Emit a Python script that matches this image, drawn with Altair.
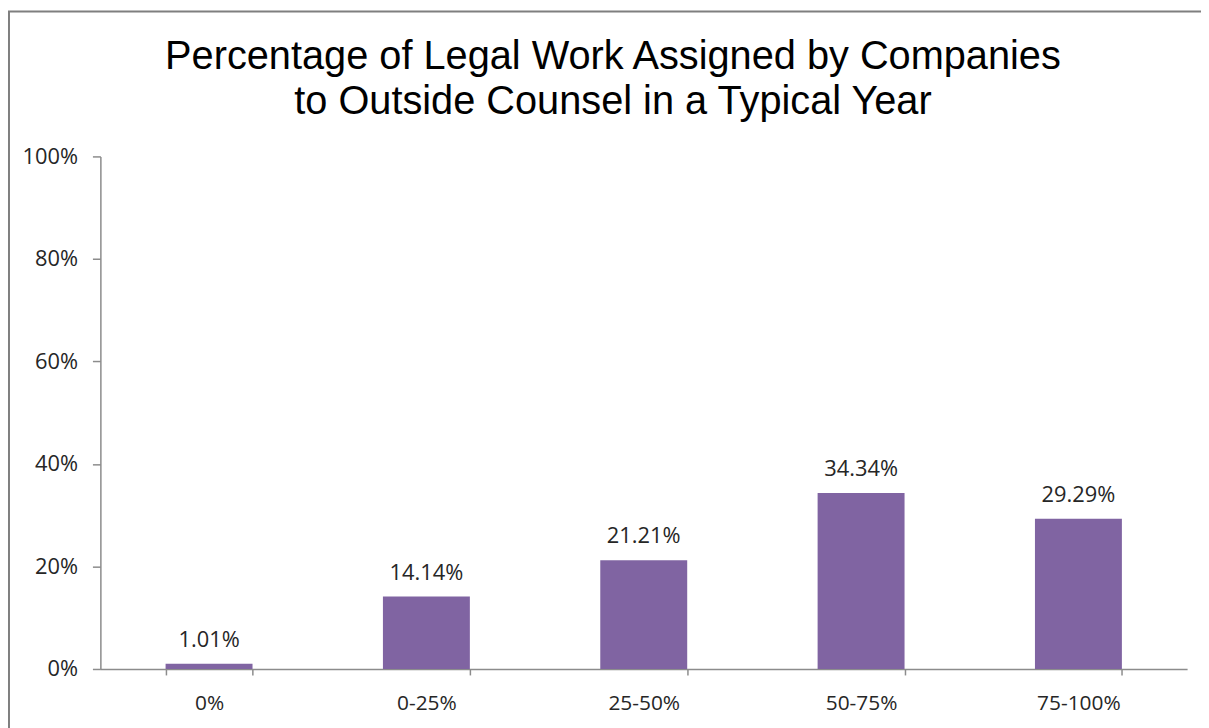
import altair as alt
import pandas as pd

categories = ["0%", "0-25%", "25-50%", "50-75%", "75-100%"]
shares = [0.0101, 0.1414, 0.2121, 0.3434, 0.2929]
title_lines = ["Percentage of Legal Work Assigned by Companies", "to Outside Counsel in a Typical Year"]

df = pd.DataFrame({"category": categories, "share": shares})

x_enc = alt.X("category:N", sort=categories, title=None,
              scale=alt.Scale(paddingInner=0.6, paddingOuter=0.3),
              axis=alt.Axis(labelAngle=0, tickBand="extent", tickSize=6, labelPadding=18,
                            domainColor="#8c8c8c", tickColor="#8c8c8c", domainWidth=1.5, tickWidth=1.5,
                            labelFont="Open Sans", labelFontSize=21, labelColor="#262626"))
y_enc = alt.Y("share:Q", title=None,
              scale=alt.Scale(domain=[0, 1], nice=False),
              axis=alt.Axis(values=[0, 0.2, 0.4, 0.6, 0.8, 1.0], format=".0%", grid=False,
                            tickSize=8, labelPadding=15,
                            domainColor="#8c8c8c", tickColor="#8c8c8c", domainWidth=1.5, tickWidth=1.5,
                            labelFont="Open Sans", labelFontSize=22, labelColor="#262626"))

base = alt.Chart(df)
bars = base.mark_bar(color="#8064A2").encode(x=x_enc, y=y_enc)
labels = base.mark_text(baseline="alphabetic", dy=-17, font="Open Sans", fontSize=22, color="#262626").encode(
    x=alt.X("category:N", sort=categories),
    y="share:Q",
    text=alt.Text("share:Q", format=".2%"),
)

frame_data = alt.Data(values=[{"k": 1}])
frame_top = alt.Chart(frame_data).mark_rule(color="#7f7f7f", strokeWidth=2).encode(
    x=alt.value(-93), x2=alt.value(1200), y=alt.value(-146))
frame_left = alt.Chart(frame_data).mark_rule(color="#7f7f7f", strokeWidth=2).encode(
    x=alt.value(-92), y=alt.value(-146), y2=alt.value(700))

title1 = alt.Chart(alt.Data(values=[{"t": title_lines[0]}])).mark_text(
    font="Liberation Sans", fontSize=40, color="#000000", align="center", baseline="alphabetic").encode(
    x=alt.value(516), y=alt.value(-88), text="t:N")
title2 = alt.Chart(alt.Data(values=[{"t": title_lines[1]}])).mark_text(
    font="Liberation Sans", fontSize=40, color="#000000", align="center", baseline="alphabetic").encode(
    x=alt.value(516), y=alt.value(-43), text="t:N")

chart = alt.layer(frame_top, frame_left, title1, title2, bars, labels).properties(
    width=1094, height=516,
    padding={"left": 93, "top": 147, "right": 14, "bottom": 57},
    autosize=alt.AutoSizeParams(type="none"),
).configure_view(stroke=None)

chart.save("out.html", embed_options={"renderer": "svg", "actions": False})
